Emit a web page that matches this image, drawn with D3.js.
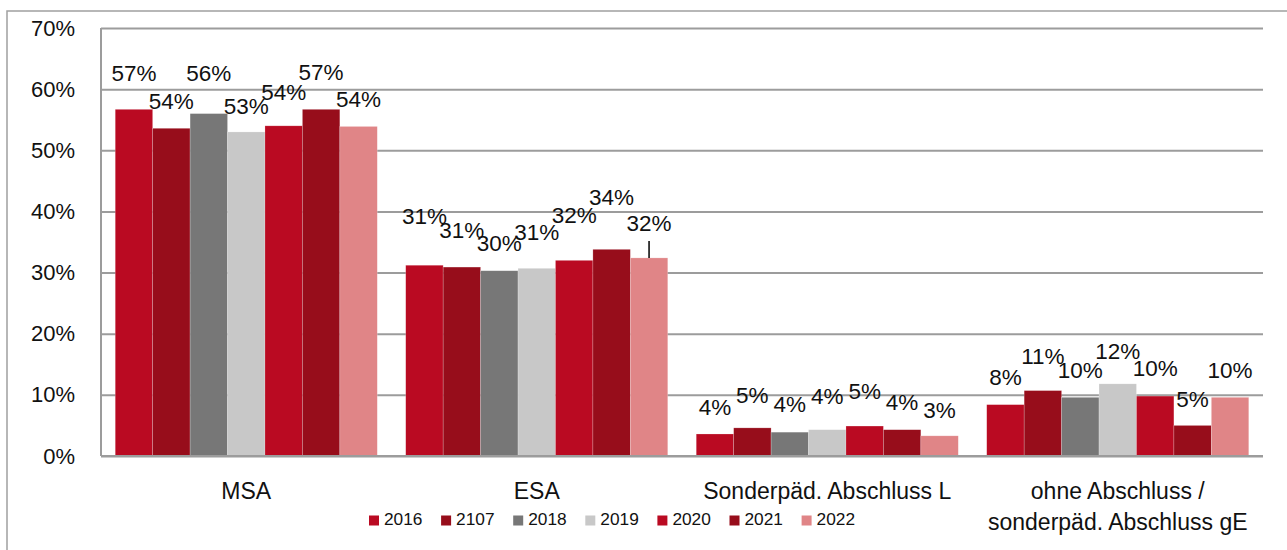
<!DOCTYPE html>
<html><head><meta charset="utf-8">
<script src="https://cdn.jsdelivr.net/npm/d3@7"></script>
<style>
html,body{margin:0;padding:0;background:#fff;}
svg{display:block;font-family:"Liberation Sans",Arial,sans-serif;}
</style></head>
<body><svg id="chart" width="1287" height="550"></svg>
<script>
// ---- data ----
const categories = ["MSA", "ESA", "Sonderpäd. Abschluss L", "ohne Abschluss /\nsonderpäd. Abschluss gE"];
const years = ["2016", "2107", "2018", "2019", "2020", "2021", "2022"];
const s2016 = [56.7, 31.2, 3.6, 8.4];
const s2107 = [53.6, 30.9, 4.6, 10.7];
const s2018 = [56.0, 30.3, 3.9, 9.6];
const s2019 = [53.0, 30.7, 4.3, 11.8];
const s2020 = [54.0, 32.0, 4.9, 9.8];
const s2021 = [56.7, 33.8, 4.3, 5.0];
const s2022 = [53.9, 32.4, 3.3, 9.6];
const seriesValues = [s2016, s2107, s2018, s2019, s2020, s2021, s2022];
const yTicks = [0, 10, 20, 30, 40, 50, 60, 70];
// label placement level (in % units) for each series/category, as in the reference
const labelLevel = [
  [62.6, 39.2, 8.0, 12.9],
  [58.0, 37.0, 10.0, 16.4],
  [62.6, 34.8, 8.5, 14.1],
  [57.2, 36.7, 9.8, 17.2],
  [59.5, 39.5, 10.7, 14.4],
  [62.9, 42.4, 8.9, 9.3],
  [58.4, 38.1, 7.5, 14.1]
];
const colors = ["#BA0A22", "#970D1B", "#777777", "#C8C8C8", "#BA0A22", "#970D1B", "#E08587"];

// ---- layout ----
const svg = d3.select("#chart");
const L = 101, R = 1263, T = 28, B = 456;
const x0 = d3.scaleBand().domain(categories).range([L, R]).padding(0);
const x1 = d3.scaleBand().domain(years).range([0, x0.bandwidth()]).paddingInner(0).paddingOuter(0.38);
const y = d3.scaleLinear().domain([0, 70]).range([B, T]);
const color = d3.scaleOrdinal().domain(years).range(colors);

// outer border
svg.append("rect").attr("x", 7).attr("y", 11).attr("width", 1300).attr("height", 600)
  .attr("fill", "none").attr("stroke", "#a0a0a0").attr("stroke-width", 1.5);

// gridlines
const yAxis = d3.axisLeft(y).tickValues(yTicks).tickSize(-(R - L)).tickFormat(d => d + "%").tickPadding(26);
const gy = svg.append("g").attr("transform", `translate(${L},0)`).call(yAxis);
gy.select(".domain").remove();
gy.selectAll(".tick line").attr("stroke", "#9c9c9c").attr("stroke-width", 2);
gy.selectAll(".tick text").attr("font-size", 22).attr("fill", "#111")
  .attr("font-family", "'Liberation Sans', Arial, sans-serif");

// left axis line
svg.append("line").attr("x1", L).attr("x2", L).attr("y1", T).attr("y2", B)
  .attr("stroke", "#9c9c9c").attr("stroke-width", 2);

// bars
const groups = svg.append("g").selectAll("g").data(categories).join("g")
  .attr("transform", d => `translate(${x0(d)},0)`);
groups.selectAll("rect").data((c, ci) => years.map((yr, si) => ({yr, si, ci, v: seriesValues[si][ci]})))
  .join("rect")
  .attr("x", d => x1(d.yr)).attr("width", x1.bandwidth())
  .attr("y", d => y(d.v)).attr("height", d => y(0) - y(d.v))
  .attr("fill", d => color(d.yr))
  .attr("stroke", "rgba(255,255,255,0.35)").attr("stroke-width", 0.6);

// baseline
svg.append("line").attr("x1", L).attr("x2", R).attr("y1", B).attr("y2", B)
  .attr("stroke", "#9c9c9c").attr("stroke-width", 2);

// data labels
groups.selectAll("text.lbl").data((c, ci) => years.map((yr, si) => ({yr, si, ci, v: seriesValues[si][ci], lv: labelLevel[si][ci]})))
  .join("text").attr("class", "lbl")
  .attr("x", d => x1(d.yr) + x1.bandwidth() / 2)
  .attr("y", d => y(d.lv))
  .attr("dy", "0.36em")
  .attr("text-anchor", "middle")
  .attr("font-size", 22.5).attr("fill", "#111")
  .text(d => Math.round(d.v) + "%");

// leader line for ESA 2022
{
  const ci = 1, si = 6;
  const cx = x0(categories[ci]) + x1(years[si]) + x1.bandwidth() / 2;
  svg.append("line").attr("x1", cx).attr("x2", cx)
    .attr("y1", y(labelLevel[si][ci]) + 18).attr("y2", y(seriesValues[si][ci]))
    .attr("stroke", "#000").attr("stroke-width", 1.5);
}

// category labels
svg.append("g").selectAll("text").data(categories).join("text")
  .attr("x", d => x0(d) + x0.bandwidth() / 2)
  .attr("y", 498.5)
  .attr("text-anchor", "middle").attr("font-size", 23).attr("fill", "#111")
  .each(function(d) {
    const lines = d.split("\n");
    d3.select(this).selectAll("tspan").data(lines).join("tspan")
      .attr("x", x0(d) + x0.bandwidth() / 2)
      .attr("dy", (l, i) => i === 0 ? 0 : 31.5)
      .text(l => l);
  });

// legend
const lg = svg.append("g").attr("transform", "translate(369,0)");
const li = lg.selectAll("g").data(years).join("g").attr("transform", (d, i) => `translate(${i * 72.1},0)`);
li.append("rect").attr("x", 0).attr("y", 515.5).attr("width", 10).attr("height", 10).attr("fill", d => color(d));
li.append("text").attr("x", 15).attr("y", 525).attr("font-size", 17.3).attr("fill", "#111").text(d => d);
</script></body></html>
